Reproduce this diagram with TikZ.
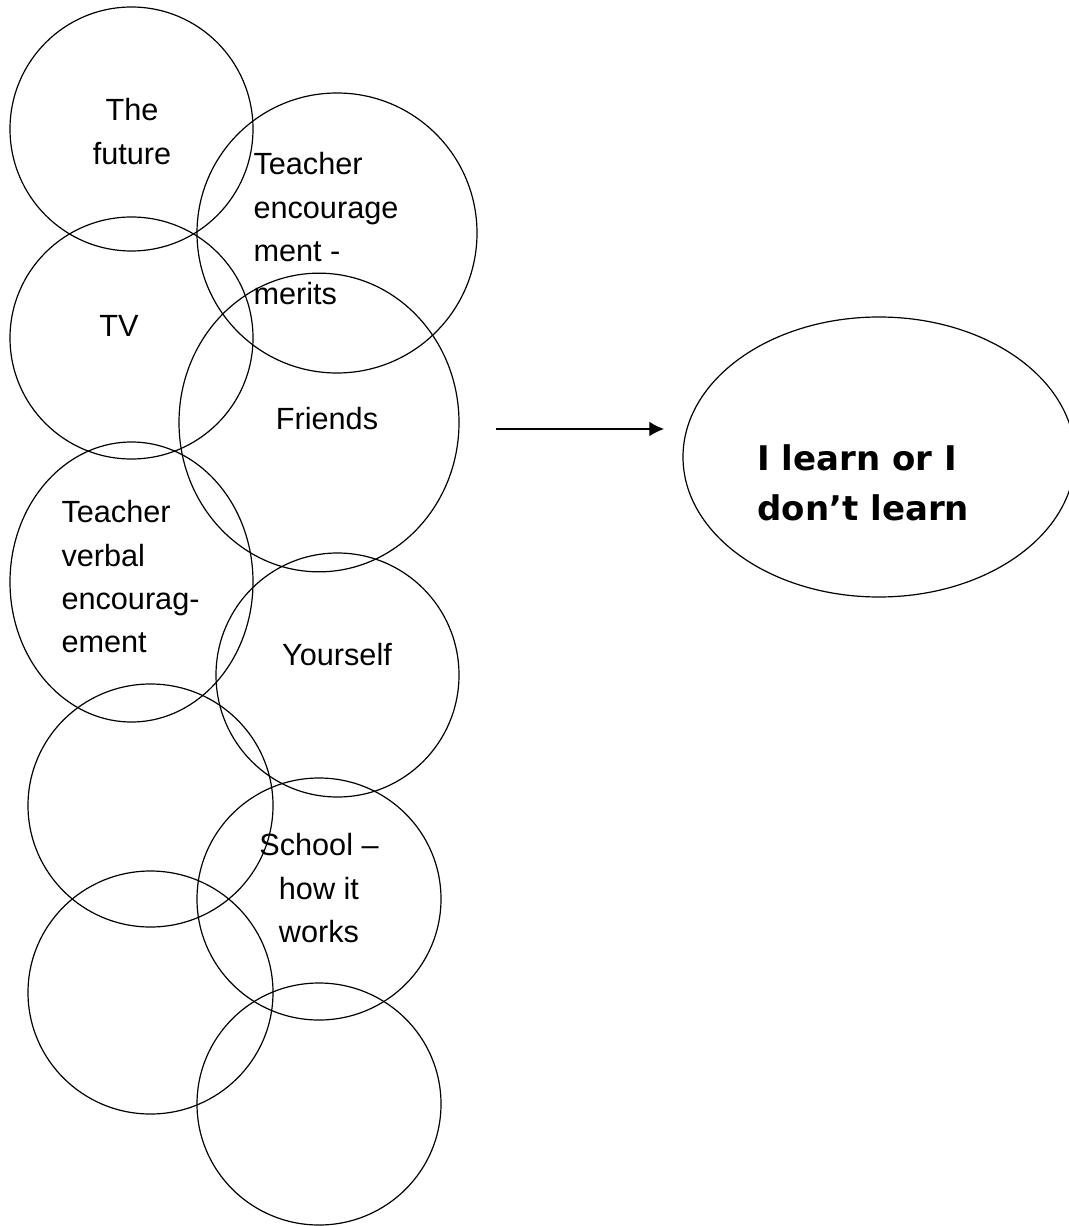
\documentclass[tikz,border=0pt]{standalone}
\usepackage{fontspec}
\setmainfont{Liberation Sans}
\newfontfamily\goalfont{DejaVu Sans}
\usetikzlibrary{shapes.geometric,arrows.meta}

\tikzset{every picture/.style={line width=0.75pt}}
\tikzset{
  bubble/.style 2 args={ellipse, draw, line width=0.9pt, inner sep=0pt, minimum width=#1, minimum height=#2},
  lbl/.style={inner sep=0pt, font=\fontsize{23}{32.5}\selectfont},
}

\begin{document}
\begin{tikzpicture}[x=0.75pt,y=0.75pt,yscale=-1,xscale=1]
\useasboundingbox (0,0) rectangle (1069,1226);

%Shape: Circle
\node [bubble={182.25pt}{183pt}] (future) at (131.5,129) {};
%Shape: Circle
\node [bubble={210pt}{210pt}] (merits) at (337,233) {};
%Shape: Circle
\node [bubble={182.25pt}{181.5pt}] (tv) at (131.5,338) {};
%Shape: Ellipse
\node [bubble={210pt}{224pt}] (friends) at (319,422.5) {};
%Shape: Ellipse
\node [bubble={182.25pt}{210pt}] (verbal) at (131.5,582) {};
%Shape: Circle
\node [bubble={182.25pt}{183pt}] (yourself) at (337.5,675) {};
%Shape: Circle
\node [bubble={183.75pt}{182.25pt}] (blanka) at (150.5,805.5) {};
%Shape: Circle
\node [bubble={183pt}{181.5pt}] (school) at (319,899) {};
%Shape: Circle
\node [bubble={183.75pt}{182.25pt}] (blankb) at (150.5,992.5) {};
%Shape: Circle
\node [bubble={183pt}{181.5pt}] (blankc) at (319,1104) {};
%Shape: Ellipse
\node [bubble={294pt}{210pt}] (goal) at (879,457) {};

%Straight Lines
\coordinate (arrfrom) at (496,429);
\coordinate (arrto) at (664,429);
\draw [line width=0.9pt, -{Latex[length=11pt,width=11pt]}] (arrfrom) -- (arrto);

% Text Node
\node [lbl, anchor=north, align=center] (futuretxt) at (132,98) {The\\future};
% Text Node
\node [lbl, anchor=north west, align=left] (meritstxt) at (253,152) {Teacher\\encourage\\ment -\\merits};
% Text Node
\node [lbl, anchor=north, align=center] (tvtxt) at (119,315) {TV};
% Text Node
\node [lbl, anchor=north, align=center] (friendstxt) at (327,407) {Friends};
% Text Node
\node [lbl, anchor=north west, align=left] (verbaltxt) at (61,500) {Teacher\\verbal\\encourag-\\ement};
% Text Node
\node [lbl, anchor=north, align=center] (yourselftxt) at (337,643) {Yourself};
% Text Node
\node [lbl, anchor=north, align=center] (schooltxt) at (319,833) {School --\\how it\\works};
% Text Node
\node [inner sep=0pt, anchor=north west, align=left, font=\goalfont\bfseries\fontsize{25.5}{37.5}\selectfont] (goaltxt) at (757,444) {I learn or I\\don’t learn};

\end{tikzpicture}
\end{document}
